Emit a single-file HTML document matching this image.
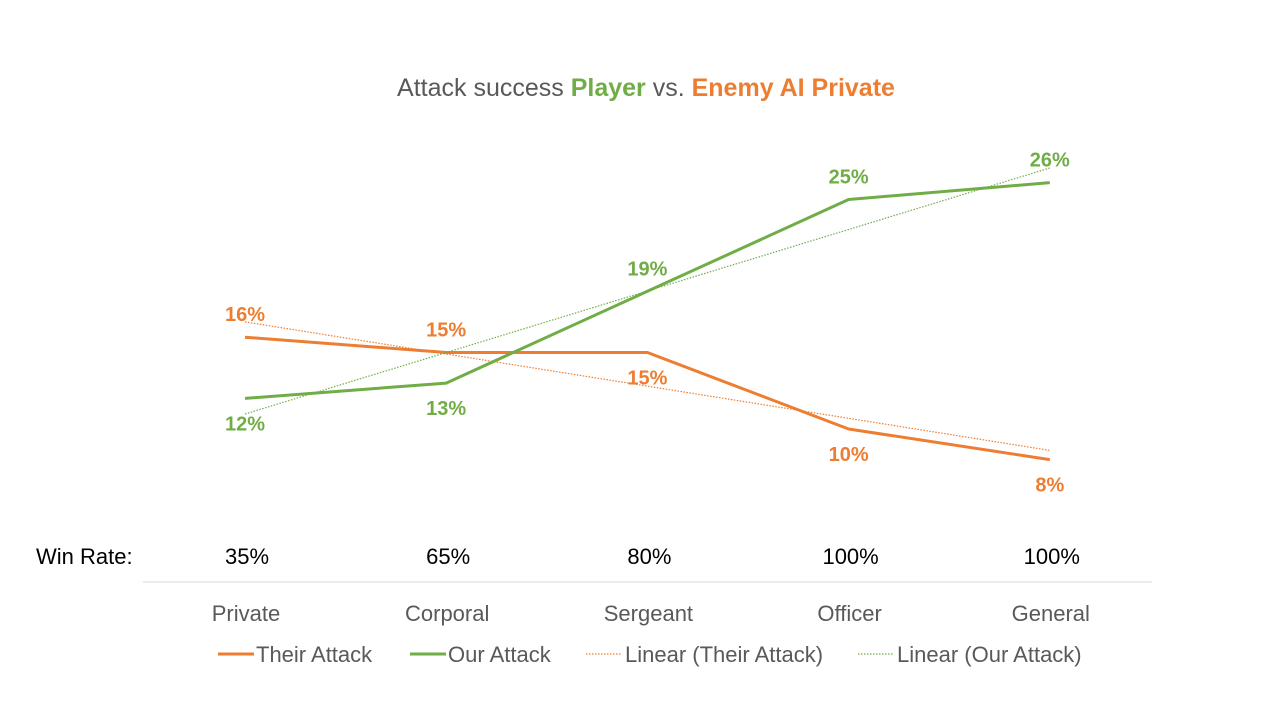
<!DOCTYPE html>
<html><head><meta charset="utf-8">
<style>
body{margin:0;background:#fff;width:1280px;height:720px;overflow:hidden;font-family:"Liberation Sans",sans-serif;}
svg text{font-family:"Liberation Sans",sans-serif;}
</style></head>
<body>
<svg id="chart" width="1280" height="720" xmlns="http://www.w3.org/2000/svg">
<text x="646" y="96" text-anchor="middle" font-size="25" fill="#595959">Attack success <tspan fill="#70AD47" font-weight="bold">Player</tspan> vs. <tspan fill="#ED7D31" font-weight="bold">Enemy AI Private</tspan></text>
<text x="36" y="564" font-size="22" fill="#000">Win Rate:</text>
<line x1="143" y1="582" x2="1152" y2="582" stroke="#d9d9d9" stroke-width="1"/>
<g id="marks"></g>
<g font-size="22" fill="#595959">
<line x1="218" y1="654" x2="254" y2="654" stroke="#ED7D31" stroke-width="3"/>
<text x="256" y="662">Their Attack</text>
<line x1="410" y1="654" x2="446" y2="654" stroke="#70AD47" stroke-width="3"/>
<text x="448" y="662">Our Attack</text>
<line x1="586" y1="654" x2="622" y2="654" stroke="#ED7D31" stroke-width="1.2" stroke-dasharray="1.5,1.5"/>
<text x="625" y="662">Linear (Their Attack)</text>
<line x1="858" y1="654" x2="894" y2="654" stroke="#70AD47" stroke-width="1.2" stroke-dasharray="1.5,1.5"/>
<text x="897" y="662">Linear (Our Attack)</text>
</g>
</svg>
<script>
const categories=["Private","Corporal","Sergeant","Officer","General"];
const winRates=["35%","65%","80%","100%","100%"];
const theirAttack=[16,15,15,10,8];
const ourAttack=[12,13,19,25,26.1];
const theirLabels=["16%","15%","15%","10%","8%"];
const ourLabels=["12%","13%","19%","25%","26%"];
const theirLabelAbove=[true,true,false,false,false];
const ourLabelAbove=[false,false,true,true,true];

const NS="http://www.w3.org/2000/svg";
const g=document.getElementById('marks');
const xPos=i=>245+i*201.2;
const yPos=v=>582-v*15.3;
function mk(tag,attrs){const e=document.createElementNS(NS,tag);for(const k in attrs)e.setAttribute(k,attrs[k]);g.appendChild(e);return e;}
function trend(vals){const n=vals.length;const mx=(n-1)/2;const my=vals.reduce((a,b)=>a+b,0)/n;let sxy=0,sxx=0;vals.forEach((v,i)=>{sxy+=(i-mx)*(v-my);sxx+=(i-mx)*(i-mx);});const b=sxy/sxx;return i=>my+b*(i-mx);}

categories.forEach((c,i)=>{
  const t=mk('text',{x:xPos(i)+1,y:621,'text-anchor':'middle','font-size':22,fill:'#595959'});t.textContent=c;
  
  
  const w=mk('text',{x:xPos(i)+2,y:564,'text-anchor':'middle','font-size':22,fill:'#000'});w.textContent=winRates[i];
  
  
});

function series(vals,color,name,labels,above){
  const f=trend(vals);const n=vals.length;
  const tl=mk('line',{x1:xPos(0),y1:yPos(f(0)),x2:xPos(n-1),y2:yPos(f(n-1)),stroke:color,'stroke-width':1.2,'stroke-dasharray':'1.5,1.5'});
  
  
  const pl=mk('polyline',{points:vals.map((v,i)=>xPos(i)+','+yPos(v)).join(' '),fill:'none',stroke:color,'stroke-width':3,'stroke-linejoin':'round'});
  
  
  vals.forEach((v,i)=>{
    const y=above[i]?yPos(v)-16:yPos(v)+32;
    const t=mk('text',{x:xPos(i),y:y,'text-anchor':'middle','font-size':20,'font-weight':'bold',fill:color});t.textContent=labels[i];
    
    
  });
}
series(theirAttack,'#ED7D31','their-attack',theirLabels,theirLabelAbove);
series(ourAttack,'#70AD47','our-attack',ourLabels,ourLabelAbove);
</script>
</body></html>
